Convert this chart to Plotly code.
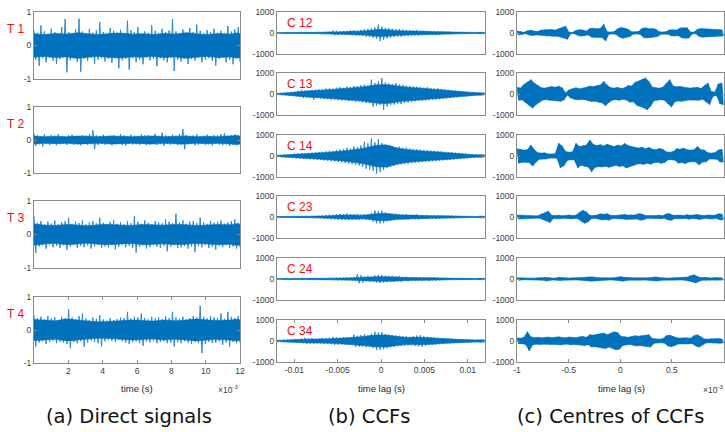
import numpy as np
import plotly.graph_objects as go

W, H = 725, 432

# ---------------- data: local extremes (upper / lower) of each trace ----------------
# (a) direct signals, time 0 .. 12e-3 s
T1_hi = [0.45,0.38,0.6,0.42,0.35,0.5,0.4,0.33,0.55,0.79,0.4,0.36,0.48,0.8,0.42,0.35,0.5,0.38,0.45,0.7,0.4,0.33,0.52,0.44,0.38,0.47,0.36,0.74,0.45,0.4,0.55,0.35,0.42,0.38,0.6,0.44,0.36,0.5,0.4,0.45,0.78,0.42,0.35,0.48,0.38,0.52,0.4,0.62,0.44,0.36,0.46,0.4,0.5,0.38,0.44,0.35,0.58,0.42,0.48,0.55]
T1_lo = [-0.42,-0.6,-0.38,-0.5,-0.36,-0.45,-0.55,-0.4,-0.35,-0.8,-0.44,-0.38,-0.5,-0.78,-0.4,-0.46,-0.36,-0.55,-0.42,-0.38,-0.48,-0.4,-0.52,-0.36,-0.68,-0.44,-0.4,-0.72,-0.38,-0.5,-0.42,-0.56,-0.36,-0.45,-0.4,-0.62,-0.38,-0.44,-0.5,-0.36,-0.76,-0.42,-0.48,-0.38,-0.55,-0.4,-0.45,-0.36,-0.5,-0.42,-0.38,-0.46,-0.6,-0.4,-0.36,-0.5,-0.42,-0.56,-0.38,-0.5]
T2_hi = [0.2,0.14,0.12,0.17,0.11,0.15,0.13,0.18,0.12,0.1,0.14,0.16,0.12,0.11,0.15,0.13,0.17,0.3,0.14,0.12,0.16,0.11,0.13,0.15,0.12,0.18,0.14,0.11,0.16,0.13,0.12,0.17,0.14,0.15,0.12,0.19,0.13,0.22,0.14,0.12,0.16,0.13,0.18,0.33,0.15,0.12,0.14,0.17,0.11,0.13,0.16,0.12,0.15,0.14,0.18,0.2,0.13,0.15,0.17,0.14]
T2_lo = [-0.18,-0.13,-0.2,-0.12,-0.15,-0.11,-0.16,-0.13,-0.12,-0.15,-0.11,-0.14,-0.13,-0.16,-0.12,-0.14,-0.13,-0.27,-0.15,-0.12,-0.14,-0.11,-0.16,-0.13,-0.12,-0.15,-0.17,-0.12,-0.14,-0.13,-0.15,-0.12,-0.16,-0.14,-0.11,-0.15,-0.13,-0.18,-0.12,-0.14,-0.13,-0.16,-0.15,-0.28,-0.13,-0.12,-0.16,-0.14,-0.12,-0.15,-0.13,-0.17,-0.12,-0.14,-0.16,-0.13,-0.18,-0.14,-0.15,-0.13]
T3_hi = [0.55,0.35,0.4,0.3,0.38,0.33,0.42,0.3,0.36,0.4,0.5,0.32,0.38,0.34,0.42,0.3,0.36,0.4,0.33,0.5,0.35,0.3,0.38,0.42,0.32,0.36,0.3,0.4,0.34,0.55,0.38,0.32,0.42,0.35,0.3,0.4,0.36,0.33,0.45,0.38,0.34,0.62,0.36,0.42,0.32,0.38,0.4,0.34,0.5,0.36,0.32,0.4,0.35,0.38,0.42,0.32,0.36,0.4,0.45,0.35]
T3_lo = [-0.55,-0.36,-0.32,-0.42,-0.3,-0.38,-0.34,-0.4,-0.32,-0.45,-0.36,-0.3,-0.4,-0.34,-0.38,-0.32,-0.42,-0.36,-0.3,-0.4,-0.35,-0.38,-0.32,-0.44,-0.36,-0.3,-0.38,-0.34,-0.4,-0.54,-0.36,-0.32,-0.42,-0.38,-0.3,-0.36,-0.4,-0.34,-0.5,-0.36,-0.32,-0.4,-0.38,-0.34,-0.42,-0.36,-0.52,-0.34,-0.38,-0.32,-0.4,-0.36,-0.45,-0.34,-0.38,-0.32,-0.4,-0.36,-0.42,-0.38]
T4_hi = [0.45,0.36,0.4,0.32,0.42,0.35,0.38,0.3,0.4,0.36,0.63,0.38,0.33,0.42,0.5,0.35,0.3,0.38,0.34,0.45,0.32,0.28,0.35,0.3,0.33,0.38,0.36,0.55,0.34,0.4,0.38,0.5,0.36,0.32,0.4,0.35,0.38,0.33,0.42,0.36,0.55,0.38,0.34,0.4,0.32,0.36,0.42,0.38,0.73,0.4,0.35,0.42,0.38,0.36,0.5,0.34,0.55,0.4,0.36,0.42]
T4_lo = [-0.5,-0.38,-0.34,-0.42,-0.36,-0.32,-0.4,-0.35,-0.38,-0.42,-0.55,-0.36,-0.4,-0.34,-0.5,-0.38,-0.32,-0.36,-0.4,-0.5,-0.34,-0.3,-0.33,-0.36,-0.3,-0.34,-0.38,-0.42,-0.36,-0.34,-0.4,-0.48,-0.35,-0.38,-0.33,-0.4,-0.36,-0.34,-0.4,-0.38,-0.5,-0.36,-0.4,-0.34,-0.38,-0.42,-0.36,-0.4,-0.7,-0.42,-0.36,-0.4,-0.38,-0.34,-0.45,-0.38,-0.5,-0.36,-0.4,-0.38]
# dense-core amplitude of each direct signal (20 evenly spaced readings)
T1_core = [0.35,0.33,0.36,0.34,0.38,0.35,0.33,0.36,0.37,0.34,0.35,0.33,0.36,0.34,0.38,0.35,0.33,0.36,0.34,0.35]
T2_core = [0.12,0.1,0.11,0.1,0.12,0.11,0.1,0.12,0.11,0.1,0.11,0.12,0.1,0.11,0.12,0.1,0.11,0.1,0.12,0.11]
T3_core = [0.32,0.28,0.27,0.3,0.28,0.26,0.29,0.3,0.28,0.27,0.3,0.29,0.28,0.3,0.29,0.27,0.28,0.3,0.29,0.3]
T4_core = [0.32,0.3,0.28,0.33,0.3,0.27,0.25,0.26,0.28,0.3,0.29,0.27,0.3,0.28,0.3,0.33,0.3,0.29,0.3,0.3]

# (b) CCFs, lag -0.012 .. 0.012 s
C12_hi = [20,25,20,30,25,35,30,40,35,45,50,40,55,50,60,70,120,110,80,90,100,120,130,110,150,180,200,220,260,400,300,250,230,200,180,190,160,150,140,130,140,120,110,100,90,80,85,70,60,65,55,50,45,55,40,35,30,25,20,20]
C12_lo = [-20,-22,-25,-28,-30,-32,-35,-38,-40,-42,-45,-48,-50,-55,-60,-65,-110,-100,-75,-85,-95,-110,-120,-115,-140,-170,-190,-230,-280,-380,-320,-260,-220,-190,-170,-180,-150,-140,-130,-120,-130,-110,-100,-95,-85,-75,-80,-65,-55,-60,-50,-45,-40,-50,-35,-30,-28,-22,-20,-18]
C13_hi = [30,50,60,80,100,110,150,200,170,180,190,210,230,220,260,280,250,300,320,290,350,330,380,360,420,450,400,680,520,600,760,560,500,480,520,450,430,400,380,360,350,330,300,320,280,260,270,240,220,200,180,160,150,130,110,100,80,60,45,30]
C13_lo = [-30,-45,-60,-80,-95,-120,-140,-190,-180,-170,-270,-200,-220,-240,-250,-280,-260,-290,-310,-300,-340,-320,-370,-350,-400,-430,-420,-600,-560,-520,-750,-600,-520,-500,-460,-480,-420,-410,-370,-350,-340,-320,-310,-290,-270,-260,-250,-230,-210,-190,-170,-160,-140,-120,-110,-90,-70,-55,-40,-30]
C14_hi = [40,60,70,90,100,110,120,140,130,150,160,170,190,200,220,250,240,280,300,320,380,350,450,420,500,680,600,840,650,790,620,550,500,450,420,440,380,400,350,330,320,300,280,290,260,250,240,220,200,190,180,160,150,130,110,100,90,70,55,40]
C14_lo = [-40,-55,-70,-85,-100,-110,-125,-135,-140,-150,-160,-175,-190,-210,-230,-250,-260,-280,-300,-330,-360,-380,-420,-450,-520,-600,-650,-700,-830,-760,-650,-560,-500,-470,-430,-400,-390,-370,-340,-320,-310,-290,-280,-270,-250,-240,-230,-210,-200,-180,-170,-150,-140,-120,-110,-95,-80,-65,-50,-40]
C23_hi = [30,25,35,30,40,35,45,40,50,45,55,50,60,80,100,120,110,140,150,130,160,140,120,150,110,130,120,200,310,280,300,220,180,150,160,130,120,140,110,100,120,90,80,100,70,80,75,65,70,60,75,55,50,45,50,40,35,30,30,25]
C23_lo = [-30,-30,-35,-30,-40,-38,-42,-45,-48,-50,-52,-55,-60,-75,-95,-115,-120,-135,-145,-140,-155,-130,-125,-140,-115,-120,-130,-220,-300,-310,-280,-200,-170,-150,-140,-130,-125,-130,-100,-105,-110,-95,-85,-90,-75,-80,-70,-65,-68,-60,-65,-55,-50,-48,-45,-40,-35,-32,-30,-25]
C24_hi = [25,30,28,35,30,40,35,38,42,40,45,42,48,45,50,55,52,60,58,70,80,90,100,230,180,120,130,110,170,200,180,160,140,150,120,130,100,110,90,95,80,85,75,90,70,80,65,60,55,50,55,45,50,40,45,35,30,28,25,20]
C24_lo = [-25,-28,-30,-32,-35,-38,-35,-40,-42,-45,-42,-45,-48,-50,-52,-55,-58,-60,-62,-70,-75,-85,-100,-200,-170,-115,-125,-105,-160,-190,-170,-150,-135,-140,-115,-125,-100,-105,-85,-90,-80,-80,-70,-85,-65,-75,-60,-58,-52,-48,-50,-44,-45,-40,-42,-34,-30,-26,-24,-20]
C34_hi = [40,50,60,70,80,100,90,120,150,110,130,100,120,140,130,160,200,170,150,180,170,160,300,250,280,320,260,350,440,400,420,330,300,280,260,250,230,220,200,240,260,280,220,200,180,170,150,140,130,120,110,100,95,90,85,80,70,60,50,40]
C34_lo = [-40,-50,-55,-70,-80,-95,-100,-110,-140,-120,-125,-110,-115,-135,-140,-150,-190,-175,-160,-170,-165,-170,-280,-260,-270,-300,-280,-330,-430,-420,-390,-340,-300,-270,-250,-240,-220,-210,-200,-230,-250,-270,-230,-190,-170,-160,-150,-135,-125,-115,-105,-100,-90,-85,-80,-75,-65,-55,-45,-40]
# dense-core amplitude of each CCF (20 evenly spaced readings)
C12_core = [15,20,25,30,35,45,60,80,100,150,160,110,90,80,70,55,45,35,25,15]
C13_core = [25,60,110,150,180,220,260,300,350,430,450,380,320,280,240,200,150,110,70,25]
C14_core = [30,60,90,120,150,190,240,300,380,500,520,380,300,250,210,180,140,100,60,30]
C23_core = [20,25,30,35,45,60,90,100,90,150,170,110,90,80,60,55,45,35,25,20]
C24_core = [15,20,25,30,35,40,45,55,80,110,110,90,70,60,55,45,35,30,25,15]
C34_core = [30,50,70,90,100,110,140,180,220,280,280,210,170,180,160,120,90,70,50,30]

# (c) centres of CCFs, lag -1e-3 .. 1e-3 s
D12_hi = [100,80,30,110,130,90,80,140,160,150,170,140,200,260,320,40,30,120,160,140,100,210,230,200,220,410,60,50,70,200,260,230,180,60,50,70,220,250,200,210,180,60,50,70,150,160,140,240,260,250,50,45,180,210,200,190,150,140,160,150]
D12_lo = [-100,-70,-30,-100,-120,-95,-80,-130,-150,-140,-160,-150,-190,-240,-300,-35,-30,-110,-150,-130,-95,-200,-220,-210,-210,-380,-55,-50,-65,-190,-250,-220,-170,-55,-50,-65,-210,-240,-210,-200,-170,-55,-50,-65,-140,-150,-135,-230,-250,-240,-50,-40,-170,-200,-190,-180,-140,-130,-150,-140]
D13_hi = [320,280,450,560,680,520,400,300,280,330,360,320,370,300,60,200,260,300,250,280,320,380,350,400,430,600,420,300,280,320,260,300,400,380,550,620,680,760,600,330,300,280,320,500,680,380,340,360,320,300,280,300,320,260,400,520,120,90,480,520]
D13_lo = [-300,-280,-420,-540,-670,-500,-380,-290,-270,-320,-340,-330,-350,-290,-55,-190,-250,-280,-260,-270,-310,-360,-340,-390,-420,-560,-400,-290,-270,-300,-250,-290,-390,-370,-530,-600,-660,-750,-580,-320,-290,-270,-300,-480,-620,-370,-330,-350,-310,-290,-270,-290,-300,-250,-380,-500,-110,-80,-460,-520]
D14_hi = [350,320,280,300,520,300,160,140,150,100,90,110,600,480,220,180,200,600,450,500,520,760,550,500,540,480,560,500,450,520,480,600,500,450,400,380,420,350,400,330,300,360,320,200,180,210,350,320,380,300,280,300,450,300,280,150,140,160,280,320]
D14_lo = [-340,-300,-290,-310,-480,-290,-150,-140,-145,-100,-90,-105,-560,-470,-210,-180,-190,-560,-440,-490,-520,-750,-540,-510,-520,-490,-540,-490,-440,-500,-470,-570,-490,-440,-390,-370,-400,-340,-390,-320,-300,-350,-310,-190,-175,-200,-340,-310,-360,-290,-270,-290,-420,-290,-270,-145,-130,-150,-270,-300]
D23_hi = [100,90,60,50,70,55,60,150,200,280,80,70,90,60,80,100,70,90,220,320,240,80,70,90,150,130,160,80,70,90,100,120,90,110,100,160,140,70,60,80,70,90,60,150,160,80,100,90,70,110,80,90,120,80,70,100,90,80,150,140]
D23_lo = [-100,-85,-55,-50,-65,-55,-60,-140,-190,-260,-75,-70,-85,-60,-75,-95,-70,-85,-210,-300,-230,-75,-65,-85,-140,-125,-150,-75,-65,-85,-95,-115,-90,-105,-95,-150,-130,-65,-60,-75,-70,-85,-60,-140,-150,-75,-95,-85,-70,-105,-75,-85,-115,-75,-65,-95,-85,-75,-140,-130]
D24_hi = [60,50,40,45,50,40,55,60,100,70,50,45,80,60,50,45,55,50,60,70,90,110,100,70,50,60,55,50,60,90,110,80,60,50,55,60,50,45,60,80,100,70,50,45,50,60,55,50,70,90,150,200,120,60,80,60,50,70,60,55]
D24_lo = [-60,-45,-40,-45,-50,-40,-50,-60,-95,-65,-50,-45,-75,-55,-50,-45,-50,-50,-55,-65,-85,-105,-95,-65,-50,-55,-50,-50,-55,-85,-105,-75,-55,-50,-50,-55,-50,-45,-55,-75,-95,-65,-50,-45,-50,-55,-50,-50,-65,-85,-140,-190,-110,-55,-75,-55,-50,-65,-55,-50]
D34_hi = [150,130,180,440,200,160,180,150,170,190,160,180,200,170,150,190,180,160,200,220,180,300,280,320,350,380,300,360,440,400,220,200,180,210,250,230,260,280,300,120,100,90,110,250,280,220,150,140,160,150,130,250,300,200,100,90,110,100,120,100]
D34_lo = [-140,-130,-170,-460,-190,-150,-170,-150,-160,-180,-160,-170,-190,-160,-150,-180,-170,-160,-190,-210,-180,-290,-270,-300,-340,-360,-290,-350,-420,-390,-210,-190,-170,-200,-240,-220,-250,-270,-290,-110,-95,-85,-105,-240,-270,-210,-140,-135,-150,-140,-125,-240,-290,-190,-95,-85,-105,-95,-110,-95]

A_labels = ["T 1", "T 2", "T 3", "T 4"]
B_labels = ["C 12", "C 13", "C 14", "C 23", "C 24", "C 34"]
A_xticks = [2, 4, 6, 8, 10, 12]
B_xticks = [-0.01, -0.005, 0, 0.005, 0.01]
B_xticktext = ["-0.01", "-0.005", "0", "0.005", "0.01"]
C_xticks = [-1, -0.5, 0, 0.5, 1]
C_xticktext = ["-1", "-0.5", "0", "0.5", "1"]
captions = ["(a) Direct signals", "(b) CCFs", "(c) Centres of CCFs"]

A_data = [(T1_hi, T1_lo, T1_core), (T2_hi, T2_lo, T2_core),
          (T3_hi, T3_lo, T3_core), (T4_hi, T4_lo, T4_core)]
B_data = [(C12_hi, C12_lo, C12_core), (C13_hi, C13_lo, C13_core), (C14_hi, C14_lo, C14_core),
          (C23_hi, C23_lo, C23_core), (C24_hi, C24_lo, C24_core), (C34_hi, C34_lo, C34_core)]
C_data = [(D12_hi, D12_lo, None), (D13_hi, D13_lo, None), (D14_hi, D14_lo, None),
          (D23_hi, D23_lo, None), (D24_hi, D24_lo, None), (D34_hi, D34_lo, None)]

# ---------------- layout geometry (pixels) ----------------
A_X = (34, 240)
A_ROWS = [(12, 79), (107, 173), (201, 268), (297, 363)]
B_X = (277, 485)
C_X = (517, 723.5)
BC_ROWS = [(12, 54), (73, 115), (135, 177), (196, 238), (258, 300), (320, 362)]

BLUE = "#0072BD"
FRINGE = "rgb(45,135,203)"
GRAY = "#8a8a8a"
TICKC = "#3c3c3c"
TFONT = dict(family="Liberation Sans, Arial, sans-serif", size=8.5, color=TICKC)

fig = go.Figure()
layout = {}
k = [0]


def add_panel(xpx, ypx, hi, lo, core, xr, yr, ytv, yttxt, xtv=None, xttxt=None):
    k[0] += 1
    n = k[0]
    xn = "x" if n == 1 else f"x{n}"
    yn = "y" if n == 1 else f"y{n}"
    hi = np.asarray(hi, float)
    lo = np.asarray(lo, float)
    # sample positions of the local extremes (upper / lower interleaved in time)
    xs = np.linspace(xr[0], xr[1], 2 * len(hi))
    ys = np.empty(2 * len(hi))
    ys[0::2] = hi
    ys[1::2] = lo
    if core is None:
        # bursts: solid envelope between the extremes
        xh, xl = xs[0::2], xs[1::2]
        fig.add_trace(go.Scatter(x=np.concatenate([xh, xl[::-1]]),
                                 y=np.concatenate([hi, lo[::-1]]),
                                 mode="lines", fill="toself", fillcolor=BLUE,
                                 line=dict(width=0.5, color=BLUE),
                                 xaxis=xn, yaxis=yn, hoverinfo="skip", showlegend=False))
        fig.add_trace(go.Scatter(x=xs, y=ys, mode="lines",
                                 line=dict(width=0.8, color=BLUE),
                                 xaxis=xn, yaxis=yn, hoverinfo="skip", showlegend=False))
    else:
        # oscillating trace through the extremes, then its dense core on top
        fig.add_trace(go.Scatter(x=xs, y=ys, mode="lines",
                                 line=dict(width=1, color=FRINGE),
                                 xaxis=xn, yaxis=yn, hoverinfo="skip", showlegend=False))
        c = np.asarray(core, float)
        xc = np.linspace(xr[0], xr[1], len(c))
        fig.add_trace(go.Scatter(x=np.concatenate([xc, xc[::-1]]),
                                 y=np.concatenate([c, -c[::-1]]),
                                 mode="lines", fill="toself", fillcolor=BLUE,
                                 line=dict(width=0.6, color=BLUE, shape="spline"),
                                 xaxis=xn, yaxis=yn, hoverinfo="skip", showlegend=False))
    xa = dict(domain=[xpx[0] / W, xpx[1] / W], range=list(xr), anchor=yn,
              showgrid=False, zeroline=False, showline=True, mirror="allticks",
              linecolor=GRAY, linewidth=1, ticks="inside", ticklen=3,
              tickcolor=GRAY, tickfont=TFONT, automargin=False)
    if xtv is not None:
        xa.update(tickvals=xtv, ticktext=xttxt, showticklabels=True)
    else:
        xa.update(showticklabels=False, tickvals=[])
    ya = dict(domain=[1 - ypx[1] / H, 1 - ypx[0] / H], range=list(yr), anchor=xn,
              showgrid=False, zeroline=False, showline=True, mirror="allticks",
              linecolor=GRAY, linewidth=1, ticks="inside", ticklen=3,
              tickcolor=GRAY, tickvals=ytv, ticktext=yttxt, tickfont=TFONT,
              automargin=False)
    layout["xaxis" if n == 1 else f"xaxis{n}"] = xa
    layout["yaxis" if n == 1 else f"yaxis{n}"] = ya


for i, (hi, lo, core) in enumerate(A_data):
    last = i == len(A_data) - 1
    add_panel(A_X, A_ROWS[i], hi, lo, core, (0, 12e-3), (-1, 1), [-1, 0, 1], ["-1", "0", "1"],
              [v * 1e-3 for v in A_xticks] if last else None,
              [str(v) for v in A_xticks] if last else None)

for i, (hi, lo, core) in enumerate(B_data):
    last = i == len(B_data) - 1
    add_panel(B_X, BC_ROWS[i], hi, lo, core, (-0.012, 0.012), (-1000, 1000),
              [-1000, 0, 1000], ["-1000", "0", "1000"],
              B_xticks if last else None, B_xticktext if last else None)

for i, (hi, lo, core) in enumerate(C_data):
    last = i == len(C_data) - 1
    add_panel(C_X, BC_ROWS[i], hi, lo, core, (-1e-3, 1e-3), (-1000, 1000),
              [-1000, 0, 1000], ["-1000", "0", "1000"],
              [v * 1e-3 for v in C_xticks] if last else None,
              C_xticktext if last else None)

ann = []
RED = "#ee1111"
LF = dict(family="Liberation Sans, Arial, sans-serif", size=12, color=RED)
for i, t in enumerate(A_labels):
    ann.append(dict(text=t, x=16 / W, y=1 - (A_ROWS[i][0] + 17) / H, xref="paper", yref="paper",
                    xanchor="center", yanchor="middle", showarrow=False, font=LF))
for i, t in enumerate(B_labels):
    ann.append(dict(text=t, x=285 / W, y=1 - (BC_ROWS[i][0] + 11) / H, xref="paper", yref="paper",
                    xanchor="left", yanchor="middle", showarrow=False, font=LF))

AXF = dict(family="Liberation Sans, Arial, sans-serif", size=9.5, color="#262626")
ann.append(dict(text="time (s)", x=137 / W, y=1 - 388 / H, xref="paper", yref="paper",
                xanchor="center", yanchor="middle", showarrow=False, font=AXF))
ann.append(dict(text="time lag (s)", x=381 / W, y=1 - 388 / H, xref="paper", yref="paper",
                xanchor="center", yanchor="middle", showarrow=False, font=AXF))
ann.append(dict(text="time lag (s)", x=621 / W, y=1 - 388 / H, xref="paper", yref="paper",
                xanchor="center", yanchor="middle", showarrow=False, font=AXF))
EXF = dict(family="Liberation Sans, Arial, sans-serif", size=8.5, color=TICKC)
ann.append(dict(text="×10<sup>-3</sup>", x=240 / W, y=1 - 389 / H, xref="paper", yref="paper",
                xanchor="right", yanchor="middle", showarrow=False, font=EXF))
ann.append(dict(text="×10<sup>-3</sup>", x=725 / W, y=1 - 389 / H, xref="paper", yref="paper",
                xanchor="right", yanchor="middle", showarrow=False, font=EXF))

CAPF = dict(family="DejaVu Sans, sans-serif", size=19.5, color="#111111")
for cx, t in zip([129, 369, 610], captions):
    ann.append(dict(text=t, x=cx / W, y=1 - 416 / H, xref="paper", yref="paper",
                    xanchor="center", yanchor="middle", showarrow=False, font=CAPF))

fig.update_layout(width=W, height=H, margin=dict(l=0, r=0, t=0, b=0, pad=0),
                  paper_bgcolor="white", plot_bgcolor="white",
                  annotations=ann, **layout)

fig.write_html("out.html", config={"displayModeBar": False, "staticPlot": True},
               post_script="document.body.style.margin='0';document.body.style.padding='0';")
